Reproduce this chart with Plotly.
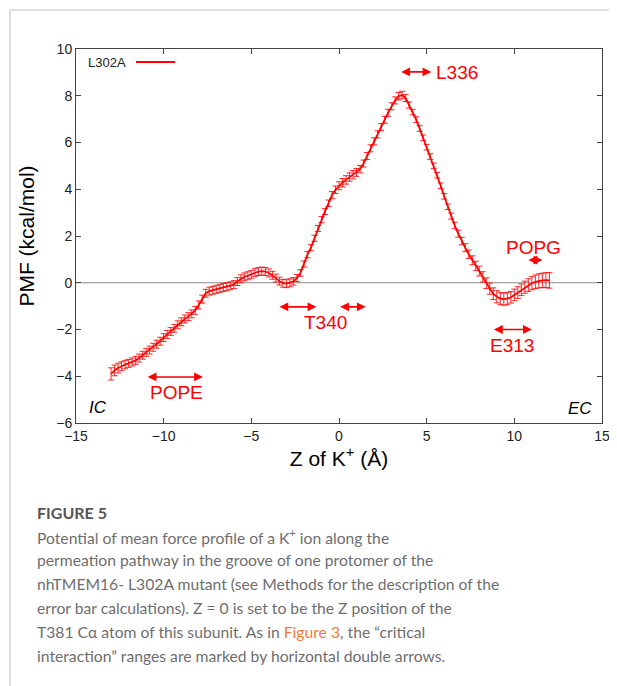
import plotly.graph_objects as go

# ---------------- data ----------------
z_values = [
    -13.0, -12.8, -12.6, -12.4, -12.2, -12.0, -11.8, -11.6, -11.4, -11.2,
    -11.0, -10.8, -10.6, -10.4, -10.2, -10.0, -9.8, -9.6, -9.4, -9.2,
    -9.0, -8.8, -8.6, -8.4, -8.2, -8.0, -7.8, -7.6, -7.4, -7.2,
    -7.0, -6.8, -6.6, -6.4, -6.2, -6.0, -5.8, -5.6, -5.4, -5.2,
    -5.0, -4.8, -4.6, -4.4, -4.2, -4.0, -3.8, -3.6, -3.4, -3.2,
    -3.0, -2.8, -2.6, -2.4, -2.2, -2.0, -1.8, -1.6, -1.4, -1.2,
    -1.0, -0.8, -0.6, -0.4, -0.2, 0.0, 0.2, 0.4, 0.6, 0.8,
    1.0, 1.2, 1.4, 1.6, 1.8, 2.0, 2.2, 2.4, 2.6, 2.8,
    3.0, 3.2, 3.4, 3.6, 3.8, 4.0, 4.2, 4.4, 4.6, 4.8,
    5.0, 5.2, 5.4, 5.6, 5.8, 6.0, 6.2, 6.4, 6.6, 6.8,
    7.0, 7.2, 7.4, 7.6, 7.8, 8.0, 8.2, 8.4, 8.6, 8.8,
    9.0, 9.2, 9.4, 9.6, 9.8, 10.0, 10.2, 10.4, 10.6, 10.8,
    11.0, 11.2, 11.4, 11.6, 11.8, 12.0,
]

pmf_values = [
    -3.90, -3.75, -3.65, -3.57, -3.50, -3.45, -3.39, -3.32, -3.22, -3.10,
    -2.98, -2.88, -2.76, -2.63, -2.50, -2.35, -2.21, -2.08, -1.95, -1.80,
    -1.67, -1.55, -1.45, -1.33, -1.18, -0.95, -0.70, -0.45, -0.36, -0.32,
    -0.28, -0.24, -0.20, -0.17, -0.13, -0.08, 0.05, 0.17, 0.25, 0.30,
    0.36, 0.43, 0.48, 0.50, 0.48, 0.42, 0.32, 0.20, 0.07, -0.02,
    -0.04, 0.00, 0.06, 0.20, 0.42, 0.80, 1.20, 1.50, 1.90, 2.32,
    2.70, 3.05, 3.40, 3.75, 3.98, 4.15, 4.28, 4.40, 4.52, 4.62,
    4.72, 4.86, 5.10, 5.42, 5.75, 6.05, 6.35, 6.66, 6.97, 7.27,
    7.55, 7.80, 7.98, 8.03, 7.90, 7.60, 7.30, 6.98, 6.60, 6.20,
    5.80, 5.40, 5.00, 4.60, 4.15, 3.70, 3.25, 2.85, 2.45, 2.10,
    1.78, 1.50, 1.22, 0.96, 0.72, 0.50, 0.25, -0.02, -0.25, -0.47,
    -0.60, -0.68, -0.70, -0.68, -0.62, -0.52, -0.42, -0.30, -0.19, -0.10,
    -0.02, 0.04, 0.08, 0.10, 0.11, 0.10,
]

pmf_errors = [
    0.26, 0.23, 0.21, 0.19, 0.18, 0.17, 0.17, 0.17, 0.17, 0.17,
    0.17, 0.17, 0.17, 0.17, 0.17, 0.17, 0.17, 0.17, 0.17, 0.17,
    0.17, 0.17, 0.17, 0.17, 0.17, 0.17, 0.17, 0.17, 0.17, 0.17,
    0.17, 0.17, 0.17, 0.17, 0.17, 0.17, 0.17, 0.17, 0.17, 0.17,
    0.17, 0.17, 0.17, 0.17, 0.17, 0.17, 0.17, 0.17, 0.17, 0.17,
    0.17, 0.17, 0.16, 0.15, 0.14, 0.13, 0.13, 0.13, 0.13, 0.13,
    0.13, 0.13, 0.14, 0.15, 0.16, 0.17, 0.18, 0.18, 0.18, 0.18,
    0.17, 0.16, 0.15, 0.15, 0.15, 0.15, 0.15, 0.15, 0.15, 0.15,
    0.15, 0.15, 0.16, 0.16, 0.15, 0.13, 0.12, 0.12, 0.12, 0.12,
    0.12, 0.12, 0.12, 0.12, 0.12, 0.12, 0.12, 0.13, 0.14, 0.15,
    0.16, 0.17, 0.18, 0.19, 0.20, 0.21, 0.22, 0.23, 0.24, 0.25,
    0.26, 0.26, 0.26, 0.26, 0.25, 0.25, 0.25, 0.25, 0.26, 0.27,
    0.28, 0.29, 0.30, 0.31, 0.32, 0.33,
]

series_name = "L302A"

# critical interaction ranges (double arrows)
range_labels = ["L336", "POPE", "T340", "T340", "E313", "POPG"]
range_start = [3.46, -11.0, -3.48, -0.02, 8.75, 10.72]
range_end = [5.27, -7.76, -1.29, 1.52, 11.0, 11.6]
range_y = [9.02, -4.03, -1.03, -1.03, -2.0, 0.97]
label_text = ["L336", "POPE", "T340", "E313", "POPG"]
label_x = [6.75, -9.28, -0.77, 9.87, 11.12]
label_y = [9.0, -4.71, -1.7, -2.7, 1.52]

x_ticks = [-15, -10, -5, 0, 5, 10, 15]
y_ticks = [-6, -4, -2, 0, 2, 4, 6, 8, 10]

caption_title = "FIGURE 5"
caption_lines = [
    "Potential of mean force profile of a K<sup>+</sup> ion along the",
    "permeation pathway in the groove of one protomer of the",
    "nhTMEM16- L302A mutant (see Methods for the description of the",
    "error bar calculations). Z = 0 is set to be the Z position of the",
    "T381 C\u03b1 atom of this subunit. As in <span style='color:#F07C3A'>Figure 3</span>, the \u201ccritical",
    "interaction\u201d ranges are marked by horizontal double arrows.",
]

# ---------------- geometry ----------------
# the page body adds an 8px margin; coordinates below are page pixels
OFF = 8
W, H = 617 - OFF, 686 - OFF
PL, PR, PT, PB = 76, 602, 49, 423  # plot area in page pixels
ML, MR, MT, MB = PL - OFF, W - (PR - OFF), PT - OFF, H - (PB - OFF)
PW = PR - PL
PH = PB - PT


def px_x(px):
    return (px - PL) / PW


def px_y(py):
    return (PB - py) / PH


RED = "#FF0000"

fig = go.Figure()

fig.add_trace(go.Scatter(
    x=z_values, y=pmf_values, mode="lines", name=series_name,
    line=dict(color=RED, width=1.8),
    error_y=dict(type="data", array=pmf_errors, color="rgba(255,0,0,0.85)",
                 thickness=1, width=3),
    showlegend=False,
))

annotations = []
for lab, s, e, yy in zip(range_labels, range_start, range_end, range_y):
    annotations.append(dict(
        x=e, y=yy, ax=s, ay=yy, xref="x", yref="y", axref="x", ayref="y",
        text="", showarrow=True, arrowside="end+start", arrowhead=2,
        arrowsize=1.1, arrowwidth=1.6, arrowcolor=RED,
        standoff=0, startstandoff=0,
    ))
for t, lx, ly in zip(label_text, label_x, label_y):
    annotations.append(dict(
        x=lx, y=ly, xref="x", yref="y", text=t, showarrow=False,
        xanchor="center", yanchor="middle",
        font=dict(family="Liberation Sans, Arial, sans-serif", size=19, color=RED),
    ))

# IC / EC
annotations.append(dict(x=px_x(98), y=px_y(407), xref="paper", yref="paper",
                        xanchor="center", yanchor="middle",
                        text="<i>IC</i>", showarrow=False,
                        font=dict(family="Liberation Sans, Arial", size=17, color="black")))
annotations.append(dict(x=px_x(580), y=px_y(408), xref="paper", yref="paper",
                        xanchor="center", yanchor="middle",
                        text="<i>EC</i>", showarrow=False,
                        font=dict(family="Liberation Sans, Arial", size=17, color="black")))

# legend (gnuplot style: text then line sample)
annotations.append(dict(x=px_x(86), y=px_y(62), xref="paper", yref="paper",
                        xanchor="left", yanchor="middle", text=series_name, showarrow=False,
                        font=dict(family="Liberation Sans, Arial", size=13, color="#222")))

# caption
annotations.append(dict(x=px_x(35), y=px_y(512), xref="paper", yref="paper",
                        xanchor="left", yanchor="middle", text="<b>" + caption_title + "</b>",
                        showarrow=False,
                        font=dict(family="Lato, sans-serif", size=16, color="#555555")))
line_centers = [536, 560, 584, 608, 632, 656]
for ln, cy in zip(caption_lines, line_centers):
    annotations.append(dict(x=px_x(35), y=px_y(cy), xref="paper", yref="paper",
                            xanchor="left", yanchor="middle", text=ln, showarrow=False,
                            font=dict(family="Lato, sans-serif", size=15.7, color="#6E6E6E")))

shapes = [
    # legend sample
    dict(type="line", xref="paper", yref="paper", x0=px_x(136), x1=px_x(175),
         y0=px_y(62), y1=px_y(62), line=dict(color=RED, width=2)),
    # zero line
    dict(type="line", xref="paper", yref="y", x0=0, x1=1, y0=0, y1=0,
         line=dict(color="#8C8C8C", width=1.2), layer="below"),
    # card border (top and left)
    dict(type="line", xref="paper", yref="paper", x0=px_x(10), x1=px_x(617),
         y0=px_y(10), y1=px_y(10), line=dict(color="#D5D5D5", width=1.5)),
    dict(type="line", xref="paper", yref="paper", x0=px_x(10), x1=px_x(10),
         y0=px_y(10), y1=px_y(686), line=dict(color="#D5D5D5", width=1.5)),
]

axis_common = dict(
    showgrid=False, zeroline=False, showline=True, linecolor="#444444", linewidth=1,
    mirror="ticks", ticks="inside", ticklen=5, tickcolor="#444444", tickwidth=1,
    tickfont=dict(family="Liberation Sans, Arial", size=14, color="#222222"),
)

fig.update_layout(
    width=W, height=H,
    margin=dict(l=ML, r=MR, t=MT, b=MB, autoexpand=False),
    paper_bgcolor="white", plot_bgcolor="white",
    xaxis=dict(range=[-15, 15], tickvals=x_ticks, **axis_common,
               title=dict(text="Z of K<sup>+</sup> (\u00c5)", standoff=3,
                          font=dict(family="Liberation Sans, Arial", size=21, color="black"))),
    yaxis=dict(range=[-6, 10], tickvals=y_ticks, **axis_common,
               title=dict(text="PMF (kcal/mol)", standoff=15,
                          font=dict(family="Liberation Sans, Arial", size=21, color="black"))),
    annotations=annotations,
    shapes=shapes,
)

fig.write_html("out.html")
